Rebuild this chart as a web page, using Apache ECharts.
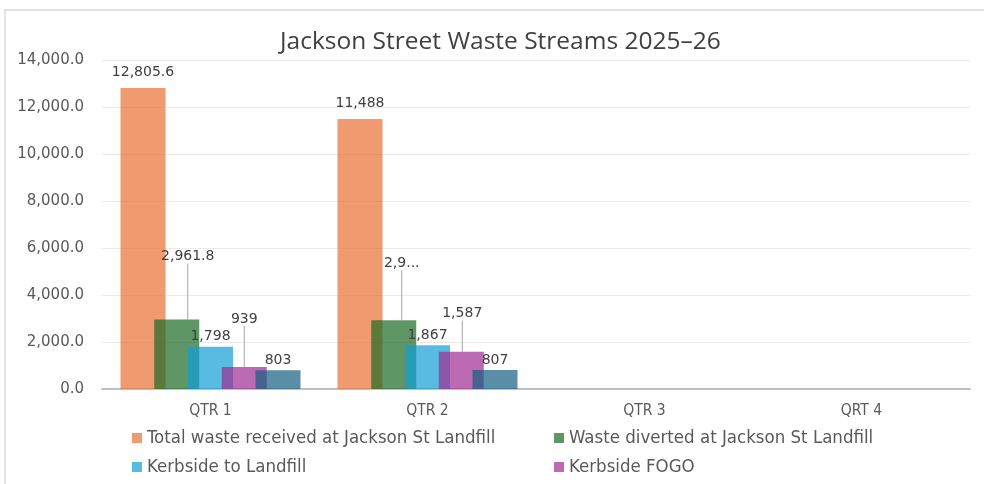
<!DOCTYPE html>
<html>
<head>
<meta charset="utf-8">
<title>Jackson Street Waste Streams 2025–26</title>
<script src="https://cdn.jsdelivr.net/npm/echarts@6/dist/echarts.min.js"></script>
<style>
  html, body { margin: 0; padding: 0; background: #ffffff; }
  #chart { width: 984px; height: 484px; }
</style>
</head>
<body>
<div id="chart"></div>
<script>
// Quarterly tonnages, 2025–26
const categories = ['QTR 1', 'QTR 2', 'QTR 3', 'QRT 4'];
const seriesNames = [
  'Total waste received at Jackson St Landfill',
  'Waste diverted at Jackson St Landfill',
  'Kerbside to Landfill',
  'Kerbside FOGO',
  'Kerbside Recycling'
];
const totalReceived = [12805.6, 11488, null, null];
const wasteDiverted = [2961.8, 2930, null, null];
const kerbsideLandfill = [1798, 1867, null, null];
const kerbsideFogo = [939, 1587, null, null];
const kerbsideRecycling = [803, 807, null, null];
const yTicks = { min: 0, max: 14000, step: 2000 };

// theme colours at 70% opacity so overlapping bars show through
const palette = [
  'rgba(233,113,50,0.7)',
  'rgba(25,107,36,0.7)',
  'rgba(15,158,213,0.7)',
  'rgba(160,43,147,0.7)',
  'rgba(21,96,130,0.7)'
];
const seriesValues = [totalReceived, wasteDiverted, kerbsideLandfill, kerbsideFogo, kerbsideRecycling];

const narrow = "'DejaVu Sans Condensed', 'Liberation Sans Narrow', 'Roboto', sans-serif";
const fmt = v => v.toLocaleString('en-US', { maximumFractionDigits: 1 });

// labels that sit clear of the cluster, with a guide line back to the bar
const movedLabels = {
  '1-0': { dx: 11, dy: -53 },
  '1-1': { dx: 8, dy: -47, truncate: 38 },
  '3-0': { dx: 0, dy: -38 },
  '3-1': { dx: 1, dy: -28 }
};

const series = seriesValues.map((vals, si) => ({
  name: seriesNames[si],
  type: 'bar',
  barWidth: 45,
  barGap: '-25%',
  itemStyle: { color: palette[si] },
  label: {
    show: true,
    position: 'top',
    distance: si === 0 ? 9 : 3,
    color: '#404040',
    fontFamily: 'DejaVu Sans',
    fontSize: 14,
    formatter: p => fmt(p.value)
  },
  labelLine: { show: false, lineStyle: { color: '#A6A6A6', width: 1 } },
  labelLayout: p => {
    const m = movedLabels[si + '-' + p.dataIndex];
    return m ? { dx: m.dx, dy: m.dy } : {};
  },
  data: vals.map((v, di) => {
    const m = movedLabels[si + '-' + di];
    if (!m) return v;
    const item = { value: v, labelLine: { show: true } };
    if (m.truncate) {
      item.label = { width: m.truncate, overflow: 'truncate', ellipsis: '...' };
    }
    return item;
  })
}));

const chart = echarts.init(document.getElementById('chart'), null, { renderer: 'canvas' });

const legendText = { color: '#595959', fontFamily: narrow, fontSize: 18.5, lineHeight: 20 };

chart.setOption({
  animation: false,
  backgroundColor: '#ffffff',
  graphic: [{
    type: 'rect',
    shape: { x: 5, y: 10, width: 1000, height: 520 },
    style: { fill: 'none', stroke: '#D9D9D9', lineWidth: 1.5 },
    silent: true,
    z: -10
  }],
  title: {
    text: 'Jackson Street Waste Streams 2025–26',
    left: 275,
    top: 25,
    textStyle: { color: '#404040', fontFamily: 'Open Sans', fontSize: 24.5, fontWeight: 'normal' }
  },
  legend: [
    {
      left: 127, top: 423, orient: 'vertical', itemGap: 9, height: 120,
      itemWidth: 10, itemHeight: 10, icon: 'rect',
      data: [seriesNames[0], seriesNames[2], seriesNames[4]],
      textStyle: legendText
    },
    {
      left: 549, top: 423, orient: 'vertical', itemGap: 9, height: 120,
      itemWidth: 10, itemHeight: 10, icon: 'rect',
      data: [seriesNames[1], seriesNames[3]],
      textStyle: legendText
    }
  ],
  grid: { left: 102, right: 14, top: 60, bottom: 95 },
  xAxis: {
    type: 'category',
    data: categories,
    axisLine: { lineStyle: { color: '#BFBFBF', width: 2 } },
    axisTick: { show: false },
    axisLabel: { color: '#595959', fontFamily: narrow, fontSize: 15.5, margin: 14 }
  },
  yAxis: {
    type: 'value',
    min: yTicks.min,
    max: yTicks.max,
    interval: yTicks.step,
    axisLine: { show: false },
    axisTick: { show: false },
    splitLine: { lineStyle: { color: '#EBEBEB', width: 1 } },
    axisLabel: {
      color: '#595959', fontFamily: 'DejaVu Sans', fontSize: 15, margin: 18,
      formatter: v => v.toLocaleString('en-US', { minimumFractionDigits: 1, maximumFractionDigits: 1 })
    }
  },
  series
});
</script>
</body>
</html>
